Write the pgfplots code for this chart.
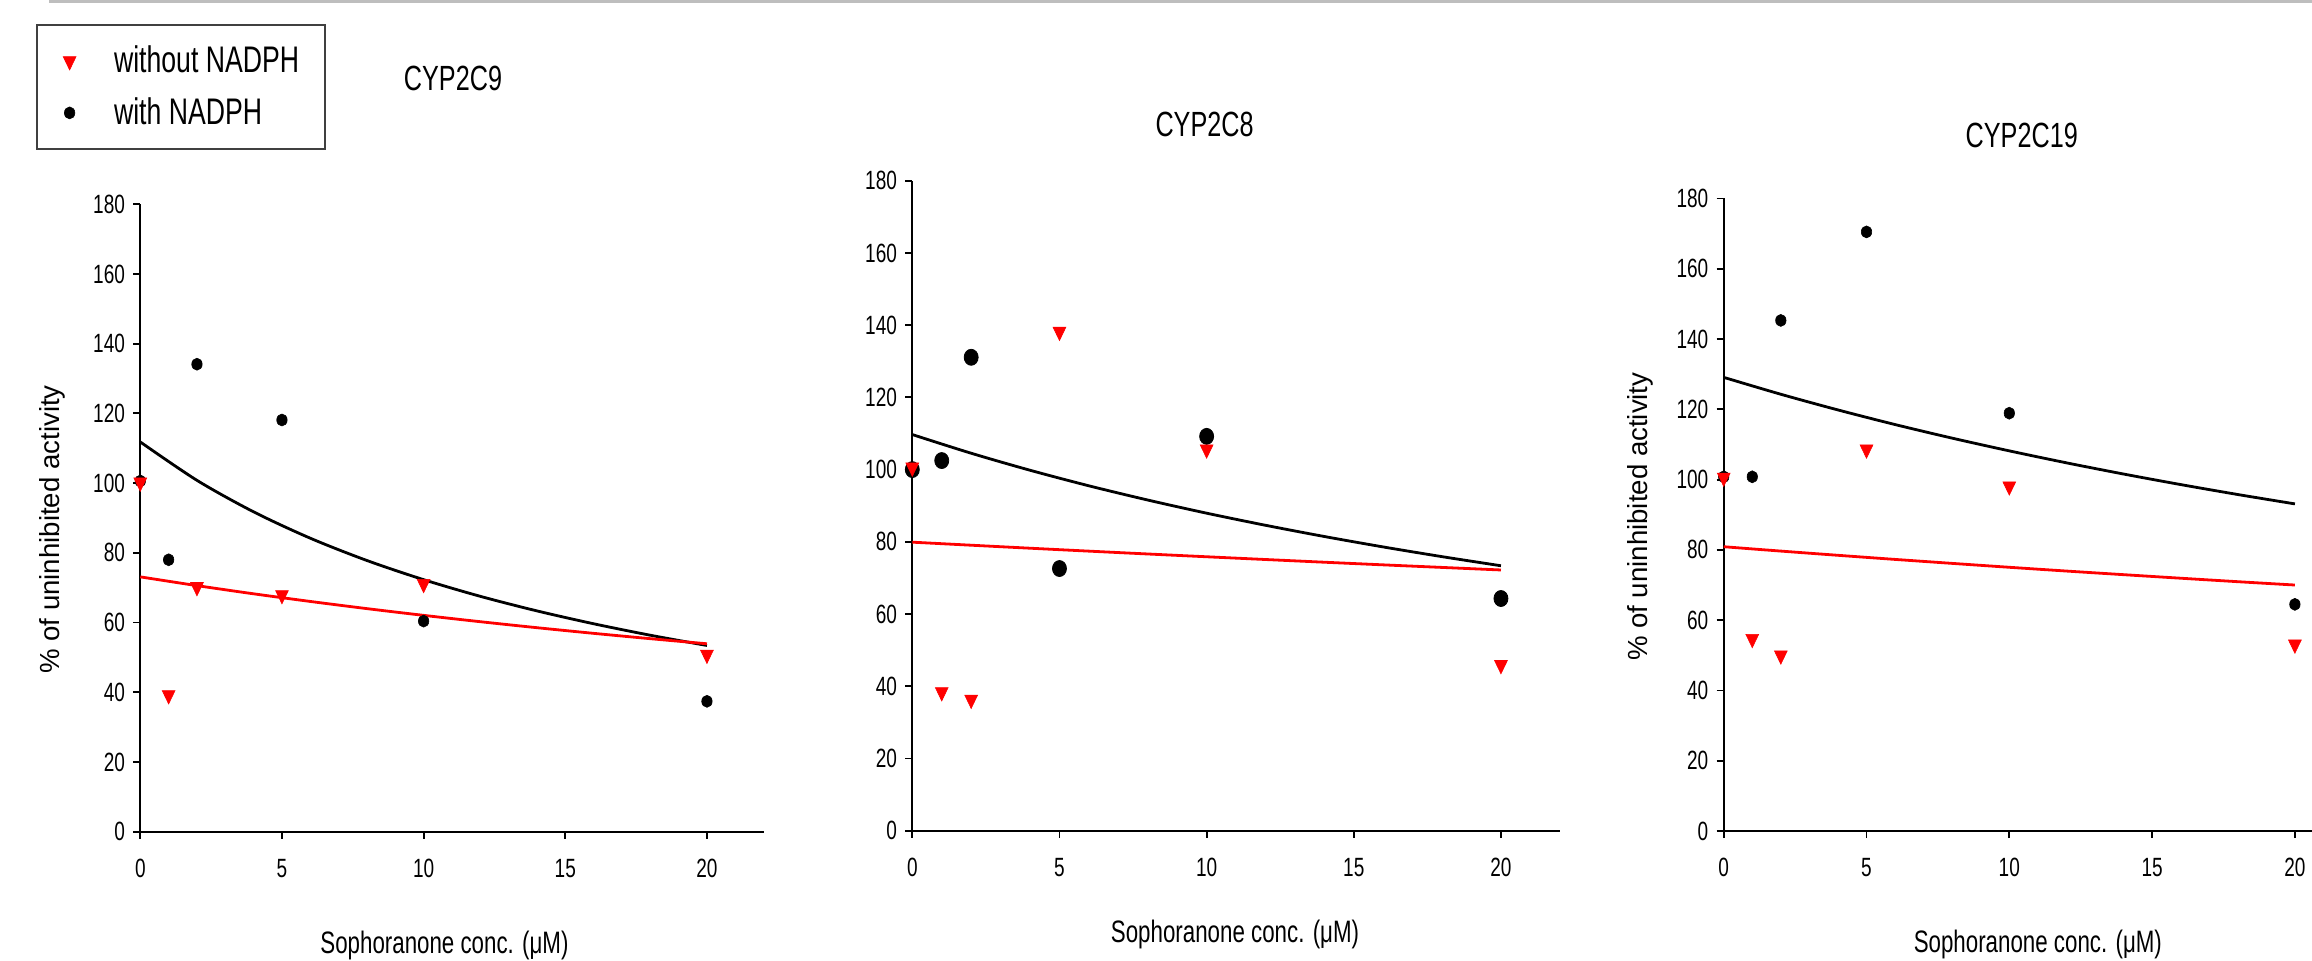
\documentclass[border=0pt]{standalone}
\usepackage{fontspec}
\setmainfont{Liberation Sans}
\newfontfamily\narrowfont{Liberation Sans}[FakeStretch=0.72]
\usepackage{pgfplots}
\pgfplotsset{compat=1.18}
\definecolor{topgray}{RGB}{190,190,190}

\pgfplotsset{
  panel/.style={
    scale only axis,
    anchor=south west,
    xmin=0, ymin=0, ymax=180,
    xtick={0,5,10,15,20},
    ytick={0,20,...,180},
    axis x line=bottom, axis y line=left,
    axis line style={-, line width=1pt},
    tick align=outside,
    major tick length=3.5pt,
    tick style={black, line width=0.9pt},
    tick label style={font=\fontsize{13.2}{14}\selectfont\narrowfont, /pgf/number format/assume math mode=true},
    xticklabel style={inner sep=0pt, anchor=north, yshift=-10pt},
    yticklabel style={inner sep=0pt, anchor=east, xshift=-4pt},
    xlabel={Sophoranone conc. (μM)},
    xlabel style={font=\fontsize{15.5}{17}\selectfont\narrowfont, anchor=center},
    ylabel style={font=\fontsize{13.8}{16}\selectfont, anchor=center},
    title style={font=\fontsize{17.5}{20}\selectfont\narrowfont, anchor=center},
    legend image code/.code={\draw[#1] plot coordinates {(0pt,0pt)};},
    clip=false,
  },
  withN/.style={only marks, mark=*, black, mark size=3pt, mark options={xscale=0.87, line width=0.3pt}},
  withoutN/.style={only marks, mark=triangle*, red, mark size=3.7pt, mark options={rotate=180, yscale=1.2, line width=0.3pt}},
  fitline/.style={line width=1.4pt, smooth, forget plot},
}

\begin{document}
\begin{tikzpicture}
\useasboundingbox (0,0) rectangle (1156pt,480pt);
\draw[topgray, line width=1.5pt] (24.5pt,479.3pt) -- (1156pt,479.3pt);

% CYP2C9
\begin{axis}[panel,
  at={(70.15pt,64.15pt)}, width=311.65pt, height=313.75pt, xmax=22,
  title={CYP2C9}, title style={at={(axis description cs:0.5017,1.182)}},
  ylabel={\% of uninhibited activity},
  ylabel style={at={(axis description cs:-0.1417,0.4816)}},
  xlabel style={at={(axis description cs:0.488,-0.1806)}},
  reverse legend,
  legend style={at={(axis description cs:-0.1673,1.2872)}, anchor=north west,
    draw=black!75, line width=1.2pt, inner xsep=13pt, inner ysep=10.5pt,
    row sep=11pt, column sep=19pt, legend cell align=left,
    font=\fontsize{18.5}{20}\selectfont\narrowfont, nodes={inner sep=0pt}},
]
\addplot[fitline, black] coordinates {
  (0,111.8) (2,100.79) (4,91.75) (6,84.19) (8,77.79) (10,72.30)
  (12,67.52) (14,63.34) (16,59.65) (18,56.36) (20,53.42)
};
\addplot[fitline, red] coordinates {
  (0,73.1) (2,70.59) (4,68.24) (6,66.05) (8,63.99) (10,62.06)
  (12,60.24) (14,58.52) (16,56.90) (18,55.37) (20,53.91)
};
\addplot[withN] coordinates {
  (0,100.6) (1,78.0) (2,134.1) (5,118.1) (10,60.4) (20,37.4)
};
\addlegendentry{with NADPH}
\addplot[withoutN] coordinates {
  (0,100.2) (1,39.2) (2,70.2) (5,67.9) (10,71.1) (20,50.8)
};
\addlegendentry{without NADPH}
\end{axis}

% CYP2C8
\begin{axis}[panel,
  at={(456.15pt,64.65pt)}, width=323.75pt, height=325pt, xmax=22,
  title={CYP2C8}, title style={at={(axis description cs:0.4513,1.0677)}},
  xlabel style={at={(axis description cs:0.4984,-0.159)}},
]
\addplot[fitline, black] coordinates {
  (0,109.7) (2,104.53) (4,99.82) (6,95.51) (8,91.57) (10,87.93)
  (12,84.58) (14,81.47) (16,78.58) (18,75.89) (20,73.37)
};
\addplot[fitline, red] coordinates {
  (0,79.9) (2,79.06) (4,78.23) (6,77.42) (8,76.63) (10,75.86)
  (12,75.10) (14,74.35) (16,73.62) (18,72.91) (20,72.20)
};
\addplot[withN, mark size=4pt, mark options={xscale=0.875}] coordinates {
  (0,100.0) (1,102.5) (2,131.1) (5,72.6) (10,109.2) (20,64.3)
};
\addplot[withoutN] coordinates {
  (0,100.6) (1,38.4) (2,36.3) (5,138.2) (10,105.6) (20,45.9)
};
\end{axis}

% CYP2C19
\begin{axis}[panel,
  at={(861.85pt,64.5pt)}, width=294.15pt, height=316.25pt, xmax=20.6,
  title={CYP2C19}, title style={at={(axis description cs:0.5066,1.0811)}},
  ylabel={\% of uninhibited activity},
  ylabel style={at={(axis description cs:-0.1423,0.4969)}},
  xlabel style={at={(axis description cs:0.534,-0.18)}},
]
\addplot[fitline, black] coordinates {
  (0,129.1) (2,124.29) (4,119.83) (6,115.67) (8,111.80) (10,108.18)
  (12,104.78) (14,101.59) (16,98.59) (18,95.76) (20,93.09)
};
\addplot[fitline, red] coordinates {
  (0,80.9) (2,79.66) (4,78.46) (6,77.29) (8,76.16) (10,75.05)
  (12,73.98) (14,72.95) (16,71.94) (18,70.95) (20,70.00)
};
\addplot[withN] coordinates {
  (0,100.8) (1,100.8) (2,145.3) (5,170.5) (10,118.9) (20,64.5)
};
\addplot[withoutN] coordinates {
  (0,100.6) (1,54.7) (2,50.0) (5,108.6) (10,98.1) (20,53.1)
};
\end{axis}
\end{tikzpicture}
\end{document}
